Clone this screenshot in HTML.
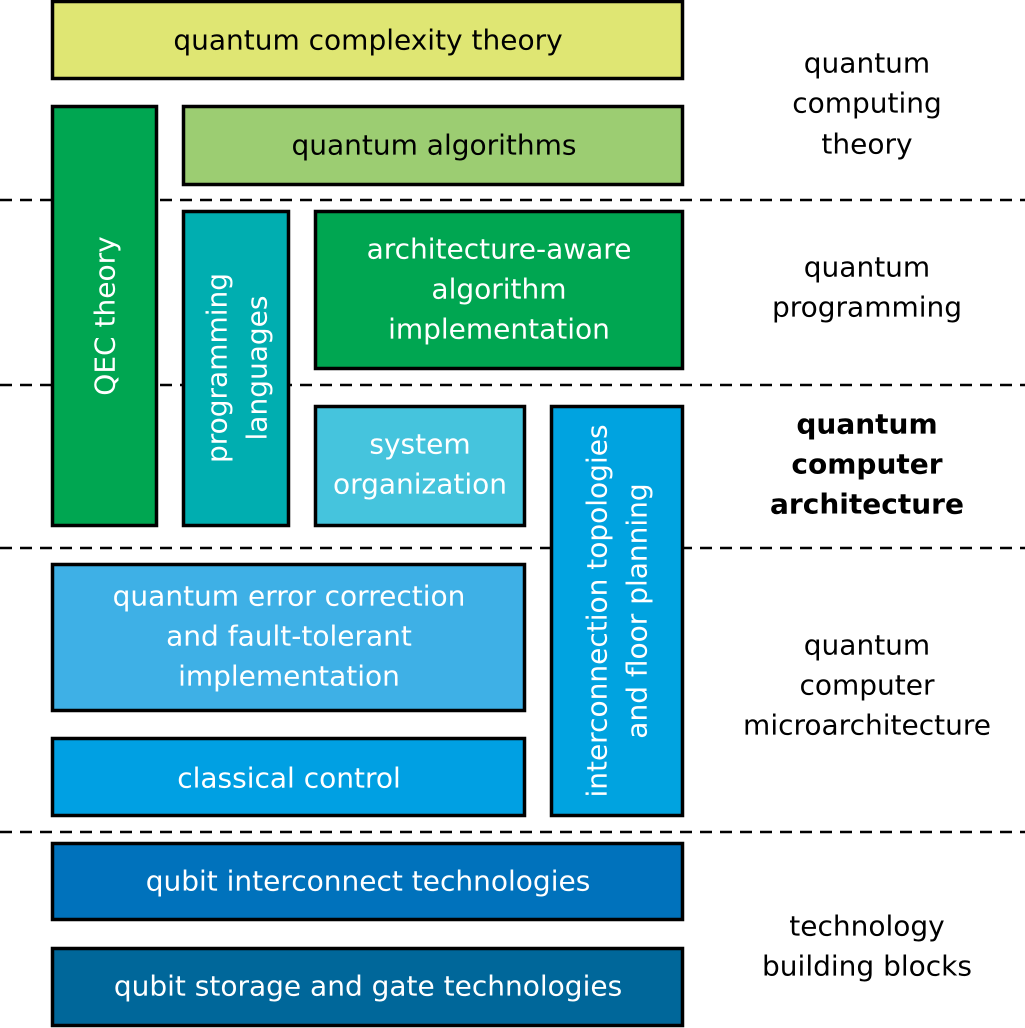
<!DOCTYPE html>
<html><head><meta charset="utf-8"><style>
html,body{margin:0;padding:0;background:#fff;}
svg{display:block;}
text{font-family:"DejaVu Sans","Liberation Sans",sans-serif;font-size:28px;text-anchor:middle;dominant-baseline:central;}
.w{fill:#fff;}
</style></head><body>
<svg width="1025" height="1028" viewBox="0 0 1025 1028">
<g stroke="#000" stroke-width="2.5" stroke-dasharray="12 8">
<line x1="0" y1="200" x2="1025" y2="200"/>
<line x1="0" y1="385" x2="1025" y2="385"/>
<line x1="0" y1="548" x2="1025" y2="548"/>
<line x1="0" y1="832" x2="1025" y2="832"/>
</g>
<g stroke="#000" stroke-width="3.5">
<rect x="52.5" y="1.5" width="630" height="77" fill="#dfe673"/>
<rect x="52.5" y="106.5" width="104" height="419" fill="#00a651"/>
<rect x="183.5" y="106.5" width="499" height="78" fill="#9ccd72"/>
<rect x="183.5" y="211.5" width="105" height="314" fill="#00aeb0"/>
<rect x="315.5" y="211.5" width="367" height="157" fill="#00a651"/>
<rect x="315.5" y="406.5" width="209" height="119" fill="#45c4dd"/>
<rect x="551.5" y="406.5" width="131" height="409" fill="#00a3e0"/>
<rect x="52.5" y="564.5" width="472" height="146" fill="#3eb0e6"/>
<rect x="52.5" y="738.5" width="472" height="77" fill="#00a0e3"/>
<rect x="52.5" y="843.5" width="630" height="76" fill="#0072bc"/>
<rect x="52.5" y="948.5" width="630" height="77" fill="#00679a"/>
</g>
<text x="368" y="40">quantum complexity theory</text>
<text x="434" y="145">quantum algorithms</text>
<text class="w" x="105" y="316" transform="rotate(-90 105 316)">QEC theory</text>
<text class="w" transform="translate(217 368) rotate(-90)">programming</text>
<text class="w" transform="translate(257 368) rotate(-90)">languages</text>
<text class="w" x="499" y="249">architecture-aware</text>
<text class="w" x="499" y="289">algorithm</text>
<text class="w" x="499" y="329">implementation</text>
<text class="w" x="420" y="444">system</text>
<text class="w" x="420" y="484">organization</text>
<text class="w" transform="translate(597 611) rotate(-90)">interconnection topologies</text>
<text class="w" transform="translate(637 611) rotate(-90)">and floor planning</text>
<text class="w" x="289" y="596">quantum error correction</text>
<text class="w" x="289" y="636">and fault-tolerant</text>
<text class="w" x="289" y="676">implementation</text>
<text class="w" x="289" y="778">classical control</text>
<text class="w" x="368" y="881">qubit interconnect technologies</text>
<text class="w" x="368" y="986">qubit storage and gate technologies</text>
<text x="867" y="63">quantum</text>
<text x="867" y="103">computing</text>
<text x="867" y="144">theory</text>
<text x="867" y="267">quantum</text>
<text x="867" y="307">programming</text>
<text x="867" y="424" font-weight="bold">quantum</text>
<text x="867" y="464" font-weight="bold">computer</text>
<text x="867" y="504" font-weight="bold">architecture</text>
<text x="867" y="645">quantum</text>
<text x="867" y="685">computer</text>
<text x="867" y="725">microarchitecture</text>
<text x="867" y="926">technology</text>
<text x="867" y="966">building blocks</text>
</svg>
</body></html>
